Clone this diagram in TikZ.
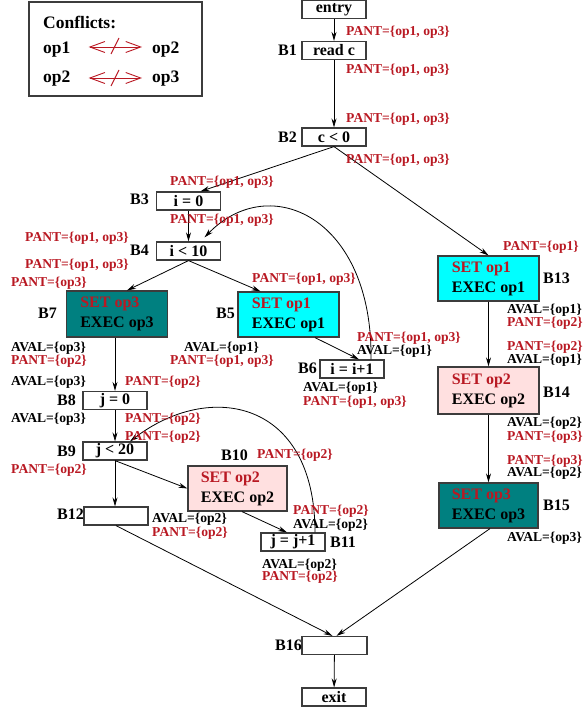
\documentclass[tikz,border=0pt]{standalone}
\usepackage{fontspec}
\setmainfont{Liberation Serif}
\usetikzlibrary{arrows.meta,calc}
\definecolor{pantred}{RGB}{185,25,35}
\definecolor{boxgray}{RGB}{60,60,60}
\definecolor{setteal}{RGB}{0,128,128}
\definecolor{setcyan}{RGB}{0,255,255}
\definecolor{setpink}{RGB}{255,224,224}
\tikzset{
  lab/.style={anchor=west, inner sep=0, font=\fontsize{13.6}{15}\selectfont\bfseries},
  pant/.style={lab, text=pantred},
  aval/.style={lab, text=black},
  bname/.style={anchor=west, inner sep=0, font=\fontsize{16}{18}\selectfont\bfseries},
  legtext/.style={anchor=west, inner sep=0, font=\fontsize{17.5}{20}\selectfont\bfseries},
  sbox/.style={draw=boxgray, line width=1.2, minimum width=64, minimum height=18, inner sep=0,
    font=\fontsize{16}{18}\selectfont\bfseries},
  blk/.style={draw=boxgray, line width=1.2, minimum width=101, minimum height=45, inner sep=0,
    align=left, font=\fontsize{16}{20}\selectfont\bfseries},
  flow/.style={-{Stealth[length=9,width=5]}, line width=0.8},
  conflict/.style={{Straight Barb[length=15,width=11]}-{Straight Barb[length=15,width=11]}, draw=pantred, line width=0.9},
}
\newcommand{\setline}[1]{{\color{pantred}SET #1}\\EXEC #1}
\begin{document}
\begin{tikzpicture}[x=1pt,y=-1pt]
\useasboundingbox (0,0) rectangle (584,711);

% legend of conflicting operations
\draw[boxgray, line width=1.2] (29,2) rectangle (202,96);
\node[legtext] (lc) at (43,22) {Conflicts:};
\node[legtext] (l1a) at (43,50) {op1};
\node[legtext] (l1b) at (152,50) {op2};
\node[legtext] (l2a) at (43,79) {op2};
\node[legtext] (l2b) at (152,79) {op3};
\draw[conflict] ([xshift=18,yshift=3]l1a.east) -- ([xshift=-10,yshift=3]l1b.west);
\draw[conflict] ([xshift=18,yshift=1]l2a.east) -- ([xshift=-10,yshift=1]l2b.west);
\draw[pantred, line width=0.9] (111,54) -- (119,38);
\draw[pantred, line width=0.9] (111,86) -- (119,70);

% basic blocks
\node[sbox] (entry) at (334,9.5) {entry};
\node[sbox] (b1) at (334,50.5) {read c};
\node[sbox] (b2) at (334,137) {c < 0};
\node[sbox] (b3) at (188.5,201) {i = 0};
\node[sbox] (b4) at (188.5,251) {i < 10};
\node[blk, fill=setteal, minimum height=46] (b7) at (117,314) {\setline{op3}};
\node[blk, fill=setcyan] (b5) at (288.5,314.5) {\setline{op1}};
\node[sbox] (b6) at (352,369) {i = i+1};
\node[sbox] (b8) at (115,400.5) {j = 0};
\node[sbox] (b9) at (115,451) {j < 20};
\node[blk, fill=setpink, minimum width=99] (b10) at (237.5,488.5) {\setline{op2}};
\node[sbox] (b12) at (116,516) {};
\node[sbox] (b11) at (293,542) {j = j+1};
\node[blk, fill=setcyan] (b13) at (488.5,278.5) {\setline{op1}};
\node[blk, fill=setpink, minimum height=47] (b14) at (488.5,390.5) {\setline{op2}};
\node[blk, fill=setteal, minimum width=99] (b15) at (488.5,505.5) {\setline{op3}};
\node[sbox, minimum width=65] (b16) at (334.5,645.5) {};
\node[sbox] (exit) at (334,697) {exit};

% block names
\node[bname] (nb1) at (278,50) {B1};
\node[bname] (nb2) at (278,137) {B2};
\node[bname] (nb3) at (130,199) {B3};
\node[bname] (nb4) at (130,250) {B4};
\node[bname] (nb7) at (38,313) {B7};
\node[bname] (nb5) at (216,313) {B5};
\node[bname] (nb6) at (298,368) {B6};
\node[bname] (nb8) at (57,400) {B8};
\node[bname] (nb9) at (57,451) {B9};
\node[bname] (nb10) at (221,455) {B10};
\node[bname] (nb12) at (57,514) {B12};
\node[bname] (nb11) at (330,542) {B11};
\node[bname] (nb13) at (543,278) {B13};
\node[bname] (nb14) at (543,392) {B14};
\node[bname] (nb15) at (543,505) {B15};
\node[bname] (nb16) at (275,645) {B16};

% control flow edges
\draw[flow] (entry) -- (b1);
\draw[flow] (b1) -- (b2);
\draw[flow] (b2.south) -- ([xshift=12]b3.north);
\draw[flow] (b2.south) -- (b13.north);
\draw[flow] (b3) -- (b4);
\draw[flow] (b4.south) -- ([xshift=10]b7.north);
\draw[flow] (b4.south) -- ([xshift=-28]b5.north);
\draw[flow] ([xshift=26.5]b5.south) -- ([xshift=7]b6.north);
\draw[flow] ([xshift=19]b6.north) .. controls (373,218) and (270,170) .. ($(b4.north)+(16,-4)$);
\draw[flow] (b7.south -| b8.north) -- (b8.north);
\draw[flow] (b8) -- (b9);
\draw[flow] (b9.south) -- (b10.west);
\draw[flow] (b9.south) -- (b9.south |- b12.north);
\draw[flow] ([xshift=4.5]b10.south) -- ([xshift=-6]b11.north);
\draw[flow] ([xshift=22]b11.north) .. controls (315,400) and (210,380) .. ([xshift=15]b9.north);
\draw[flow] (b12.south) -- ([xshift=-2]b16.north);
\draw[flow] (b13) -- (b14);
\draw[flow] (b14) -- (b15);
\draw[flow] ([xshift=1.5]b15.south) -- ([xshift=2]b16.north);
\draw[flow] (b16) -- (exit);

% dataflow annotations
\node[pant] (p1) at (346,32) {PANT=\{op1, op3\}};
\node[pant] (p2) at (346,70) {PANT=\{op1, op3\}};
\node[pant] (p3) at (346,119) {PANT=\{op1, op3\}};
\node[pant] (p4) at (346,160) {PANT=\{op1, op3\}};
\node[pant] (p5) at (170,182) {PANT=\{op1, op3\}};
\node[pant] (p6) at (170,220) {PANT=\{op1, op3\}};
\node[pant] (p7) at (25,238) {PANT=\{op1, op3\}};
\node[pant] (p8) at (25,265) {PANT=\{op1, op3\}};
\node[pant] (p9) at (11,283) {PANT=\{op3\}};
\node[pant] (p10) at (252,279) {PANT=\{op1, op3\}};
\node[aval] (a1) at (184,348) {AVAL=\{op1\}};
\node[pant] (p11) at (170,361) {PANT=\{op1, op3\}};
\node[pant] (p12) at (357,338) {PANT=\{op1, op3\}};
\node[aval] (a2) at (357,351) {AVAL=\{op1\}};
\node[aval] (a3) at (303,388) {AVAL=\{op1\}};
\node[pant] (p13) at (303,402) {PANT=\{op1, op3\}};
\node[aval] (a4) at (11,348) {AVAL=\{op3\}};
\node[pant] (p14) at (11,361) {PANT=\{op2\}};
\node[aval] (a5) at (11,382) {AVAL=\{op3\}};
\node[pant] (p15) at (125,382) {PANT=\{op2\}};
\node[aval] (a6) at (11,419) {AVAL=\{op3\}};
\node[pant] (p16) at (125,419) {PANT=\{op2\}};
\node[pant] (p17) at (125,437) {PANT=\{op2\}};
\node[pant] (p18) at (11,470) {PANT=\{op2\}};
\node[pant] (p19) at (257,455) {PANT=\{op2\}};
\node[aval] (a7) at (152,519) {AVAL=\{op2\}};
\node[pant] (p20) at (152,533) {PANT=\{op2\}};
\node[pant] (p21) at (293,511) {PANT=\{op2\}};
\node[aval] (a8) at (293,525) {AVAL=\{op2\}};
\node[aval] (a9) at (262,565) {AVAL=\{op2\}};
\node[pant] (p22) at (262,577) {PANT=\{op2\}};
\node[pant] (p23) at (503,247) {PANT=\{op1\}};
\node[aval] (a10) at (507,310) {AVAL=\{op1\}};
\node[pant] (p24) at (507,323) {PANT=\{op2\}};
\node[pant] (p25) at (507,347) {PANT=\{op2\}};
\node[aval] (a11) at (507,360) {AVAL=\{op1\}};
\node[aval] (a12) at (507,423) {AVAL=\{op2\}};
\node[pant] (p26) at (507,437) {PANT=\{op3\}};
\node[pant] (p27) at (507,461) {PANT=\{op3\}};
\node[aval] (a13) at (507,473) {AVAL=\{op2\}};
\node[aval] (a14) at (507,538) {AVAL=\{op3\}};
\end{tikzpicture}
\end{document}
